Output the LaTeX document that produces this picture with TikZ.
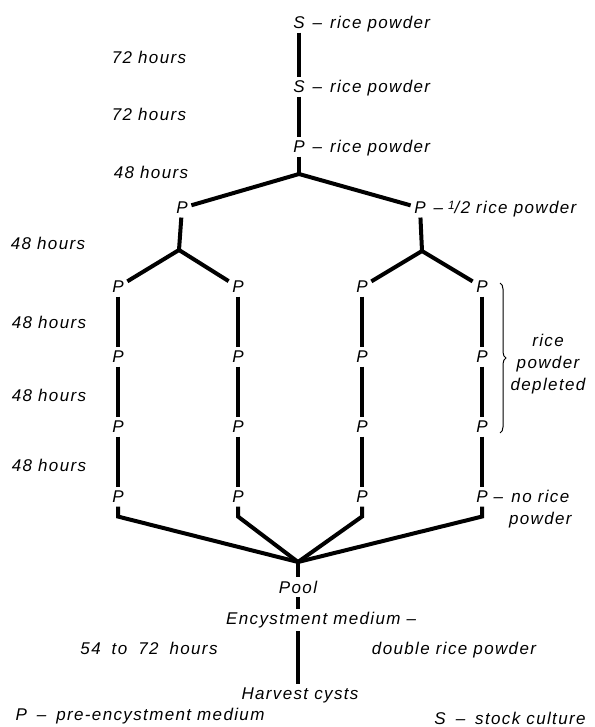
\documentclass[tikz,border=0pt]{standalone}
\usepackage{fontspec}
\setmainfont[LetterSpace=8]{Liberation Sans}
\usetikzlibrary{positioning, decorations.pathreplacing, calc}

\newcommand{\halfpart}{\raisebox{0.45ex}{\fontsize{12}{12}\selectfont 1}/2}
\newcommand{\widegap}{\hspace{11pt}}

\begin{document}
\begin{tikzpicture}[
    x=1pt, y=-1pt,
    font=\fontsize{17}{22}\selectfont\itshape,
    culture/.style={inner sep=3.5pt},
    note/.style={inner sep=0pt, anchor=base west},
    hours/.style={inner sep=0pt},
    link/.style={line width=4pt},
    depletedbrace/.style={decorate, decoration={brace, amplitude=6pt}, line width=1pt}
]
\useasboundingbox (0,0) rectangle (594,727);

% Nodes
\node[culture] (s1) at (299,23) {S};
\node[note] (s1t) at ($(s1.base east)+(4,0)$) {--\hspace{8pt}rice powder};
\node[culture] (s2) at (299,87) {S};
\node[note] (s2t) at ($(s2.base east)+(4,0)$) {--\hspace{8pt}rice powder};
\node[culture] (p0) at (299,147) {P};
\node[note] (p0t) at ($(p0.base east)+(4,0)$) {--\hspace{8pt}rice powder};

\coordinate (top) at (299,174);
\node[culture] (pl) at (182,208) {P};
\node[culture] (pr) at (420,208) {P};
\node[note] (prt) at ($(pr.base east)+(4,0)$) {--\hspace{5pt}\halfpart\hspace{6pt}rice powder};

\coordinate (forkl) at (179,250);
\coordinate (forkr) at (422,251);

\node[culture] (p11) at (118,287) {P};
\node[culture] (p12) at (118,357) {P};
\node[culture] (p13) at (118,427) {P};
\node[culture] (p14) at (118,497) {P};

\node[culture] (p21) at (238,287) {P};
\node[culture] (p22) at (238,357) {P};
\node[culture] (p23) at (238,427) {P};
\node[culture] (p24) at (238,497) {P};

\node[culture] (p31) at (362,287) {P};
\node[culture] (p32) at (362,357) {P};
\node[culture] (p33) at (362,427) {P};
\node[culture] (p34) at (362,497) {P};

\node[culture] (p41) at (482,287) {P};
\node[culture] (p42) at (482,357) {P};
\node[culture] (p43) at (482,427) {P};
\node[culture] (p44) at (482,497) {P};
\node[note] (p44t) at ($(p44.base east)+(2,0)$) {-- \begin{tabular}[t]{@{}c@{}}no rice\\powder\end{tabular}};

\node[hours, align=center] (depleted) at (548,364) {rice\\powder\\depleted};

\coordinate (pooljoin) at (298,562);
\node[culture] (pool) at (298,587) {Pool};
\node[hours, inner ysep=3pt, anchor=west] (enc) at (226,620) {Encystment medium --};
\node[hours] (double) at (454,650) {double rice powder};
\node[culture] (harvest) at (300,695) {Harvest cysts};

% Times
\node[hours] (t1) at (149,57) {72 hours};
\node[hours] (t2) at (149,114) {72 hours};
\node[hours] (t3) at (151,172) {48 hours};
\node[hours] (t4) at (48,243) {48 hours};
\node[hours] (t5) at (49,322) {48 hours};
\node[hours] (t6) at (49,395) {48 hours};
\node[hours] (t7) at (49,465) {48 hours};
\node[hours] (t8) at (149,648) {54\widegap to\widegap 72\widegap hours};

% Legend
\node[hours] (keyp) at (140,716) {P\hspace{10pt}--\hspace{10pt}pre-encystment medium};
\node[hours] (keys) at (510,718) {S\hspace{10pt}--\hspace{10pt}stock culture};

% Lines
\draw[link] (s1) -- (s2);
\draw[link] (s2) -- (p0);
\draw[link] (p0) -- (top);
\draw[link] (top) -- (pl);
\draw[link] (top) -- (pr);

\draw[link] (pl) -- (forkl);
\draw[link] (forkl) -- (p11);
\draw[link] (forkl) -- (p21);
\draw[link] (pr) -- (forkr);
\draw[link] (forkr) -- (p31);
\draw[link] (forkr) -- (p41);

\draw[link] (p11) -- (p12);
\draw[link] (p12) -- (p13);
\draw[link] (p13) -- (p14);
\draw[link] (p21) -- (p22);
\draw[link] (p22) -- (p23);
\draw[link] (p23) -- (p24);
\draw[link] (p31) -- (p32);
\draw[link] (p32) -- (p33);
\draw[link] (p33) -- (p34);
\draw[link] (p41) -- (p42);
\draw[link] (p42) -- (p43);
\draw[link] (p43) -- (p44);

\draw[link] (p14.south) -- ++(0,10) -- (pooljoin);
\draw[link] (p24.south) -- ++(0,10) -- (pooljoin);
\draw[link] (p34.south) -- ++(0,10) -- (pooljoin);
\draw[link] (p44.south) -- ++(0,10) -- (pooljoin);

\draw[link] (pooljoin) -- (pool);
\draw[link] (pool) -- (pool |- enc.north);
\draw[link] (pool |- enc.south) -- (pool |- harvest.north);

\draw[depletedbrace] (500,283) -- (500,433);

\end{tikzpicture}
\end{document}
